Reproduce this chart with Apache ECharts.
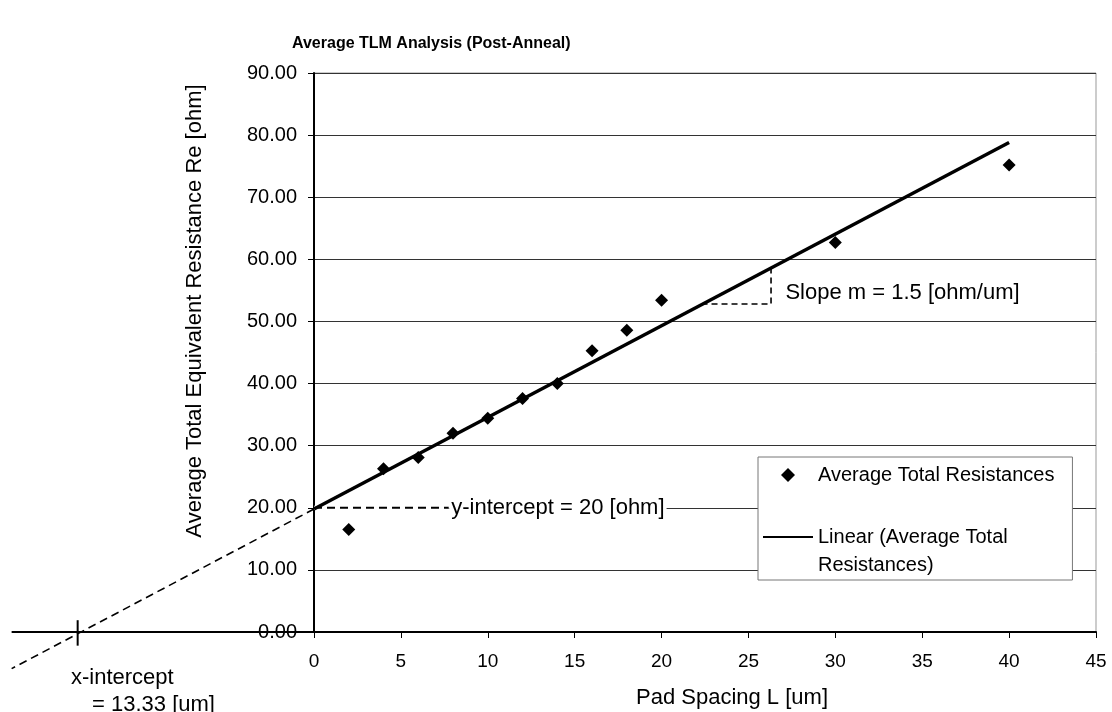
<!DOCTYPE html>
<html>
<head>
<meta charset="utf-8">
<title>Average TLM Analysis (Post-Anneal)</title>
<script src="https://cdn.jsdelivr.net/npm/echarts@6.0.0/dist/echarts.min.js"></script>
<style>
  html, body { margin: 0; padding: 0; background: #fff; }
  #chart { width: 1112px; height: 712px; }
</style>
</head>
<body>
<div id="chart"></div>
<script>
(function () {
  'use strict';

  var FONT = '"Liberation Sans", Arial, sans-serif';

  // measured points (pad spacing in um, average total resistance in ohm)
  var padSpacing = [2, 4, 6, 8, 10, 12, 14, 16, 18, 20, 30, 40];
  var avgResistance = [16.5, 26.3, 28.1, 32.0, 34.4, 37.6, 40.0, 45.3, 48.6, 53.4, 62.7, 75.2];

  // excel linear trendline
  var trendX = [0, 40];
  var trendY = [19.8, 78.8];

  // dashed extrapolation of the trendline back past the y axis
  var extX = [0, -17.4];
  var extY = [19.8, -5.9];

  // x axis carried on to the left, and the cross at the x-intercept
  var axisExtX = [-17.4, 0];
  var axisExtY = [0, 0];
  var crossX = [-13.6, -13.6];
  var crossY = [1.9, -2.2];

  // y-intercept guide
  var yIntX = [0, 7.75];
  var yIntY = [20, 20];

  // slope triangle
  var slopeX = [22.3, 26.3, 26.3];
  var slopeY = [52.8, 52.8, 58.6];

  // note anchors
  var yIntNote = [7.75, 20];
  var slopeNote = [27.1, 54.6];

  // axis ranges: [min, max, interval]
  var xRange = [0, 45, 5];
  var yRange = [0, 90, 10];
  // hidden overlay axes, same scale, reaching left of / below the plot
  var xOverlay = [-18, 45];
  var yOverlay = [-10, 90];

  var SCATTER_NAME = 'Average Total Resistances';
  var TREND_NAME = 'Linear (Average Total Resistances)';

  // plot box, px
  var plot = { left: 314, top: 73, width: 782, height: 559 };
  var pxX = plot.width / (xRange[1] - xRange[0]);
  var pxY = plot.height / (yRange[1] - yRange[0]);

  function pairs(xs, ys) {
    return xs.map(function (x, i) { return [x, ys[i]]; });
  }

  function guide(name, xs, ys, lineStyle, overlay) {
    return {
      type: 'line',
      name: name,
      xAxisIndex: overlay ? 1 : 0,
      yAxisIndex: overlay ? 1 : 0,
      data: pairs(xs, ys),
      symbol: 'none',
      clip: false,
      silent: true,
      lineStyle: lineStyle
    };
  }

  function note(name, point, text, extra) {
    var label = {
      show: true,
      position: 'right',
      distance: 0,
      formatter: text,
      fontFamily: FONT,
      fontSize: 22,
      color: '#000'
    };
    for (var k in extra) { label[k] = extra[k]; }
    return {
      type: 'scatter',
      name: name,
      data: [point],
      symbolSize: 1,
      itemStyle: { color: 'rgba(0,0,0,0)', opacity: 1 },
      silent: true,
      z: 4,
      label: label
    };
  }

  var hiddenAxis = {
    type: 'value', show: false,
    axisLine: { show: false }, axisTick: { show: false },
    axisLabel: { show: false }, splitLine: { show: false }
  };

  function overlayAxis(range, idx) {
    var a = { gridIndex: idx, min: range[0], max: range[1] };
    for (var k in hiddenAxis) { a[k] = hiddenAxis[k]; }
    return a;
  }

  var dashed = { color: '#000', width: 1.6, type: [8, 5] };

  var chart = echarts.init(document.getElementById('chart'));

  chart.setOption({
    animation: false,
    backgroundColor: '#fff',
    title: {
      text: 'Average TLM Analysis (Post-Anneal)',
      left: 292,
      top: 36,
      padding: 0,
      textStyle: { fontFamily: FONT, fontSize: 16, fontWeight: 'bold', color: '#000' }
    },
    grid: [
      {
        left: plot.left, top: plot.top, width: plot.width, height: plot.height,
        show: true, borderColor: '#999', borderWidth: 1
      },
      {
        left: plot.left + xOverlay[0] * pxX,
        top: plot.top,
        width: (xOverlay[1] - xOverlay[0]) * pxX,
        height: (yOverlay[1] - yOverlay[0]) * pxY,
        show: false
      }
    ],
    legend: {
      data: [
        { name: SCATTER_NAME, icon: 'path://M0,7L7,0L14,7L7,14Z' },
        { name: TREND_NAME, icon: 'path://M0,0L50,0L50,2L0,2Z' }
      ],
      formatter: function (name) {
        return name === TREND_NAME ? '\nLinear (Average Total\nResistances)' : name;
      },
      symbolKeepAspect: true,
      orient: 'vertical',
      left: 758,
      top: 457,
      itemWidth: 50,
      itemHeight: 14,
      itemGap: 6,
      padding: [4, 18, 1, 5],
      backgroundColor: '#fff',
      borderColor: '#777',
      borderWidth: 1,
      borderRadius: 0,
      itemStyle: { color: '#000', opacity: 1 },
      textStyle: { fontFamily: FONT, fontSize: 20, color: '#000', lineHeight: 28 }
    },
    xAxis: [
      {
        type: 'value',
        min: xRange[0], max: xRange[1], interval: xRange[2],
        axisLine: { show: true, onZero: false, lineStyle: { color: '#000', width: 2 } },
        axisTick: { show: true, length: 6, lineStyle: { color: '#000' } },
        axisLabel: { fontFamily: FONT, fontSize: 19, color: '#000', margin: 20 },
        splitLine: { show: false }
      },
      overlayAxis(xOverlay, 1)
    ],
    yAxis: [
      {
        type: 'value',
        min: yRange[0], max: yRange[1], interval: yRange[2],
        axisLine: { show: true, lineStyle: { color: '#000', width: 2 } },
        axisTick: { show: true, length: 6, lineStyle: { color: '#000' } },
        axisLabel: {
          fontFamily: FONT, fontSize: 20, color: '#000', margin: 17,
          formatter: function (v) { return v.toFixed(2); }
        },
        splitLine: { show: true, lineStyle: { color: '#333', width: 1 } }
      },
      overlayAxis(yOverlay, 1)
    ],
    graphic: [
      {
        type: 'text', x: 732, y: 698,
        style: { text: 'Pad Spacing L [um]', font: '22px ' + FONT, fill: '#000', align: 'center', verticalAlign: 'middle' }
      },
      {
        type: 'text', x: 195, y: 311, rotation: Math.PI / 2,
        style: { text: 'Average Total Equivalent Resistance Re [ohm]', font: '22px ' + FONT, fill: '#000', align: 'center', verticalAlign: 'middle' }
      },
      {
        type: 'text', x: 71, y: 678,
        style: { text: 'x-intercept', font: '22px ' + FONT, fill: '#000', align: 'left', verticalAlign: 'middle' }
      },
      {
        type: 'text', x: 92, y: 705,
        style: { text: '= 13.33 [um]', font: '22px ' + FONT, fill: '#000', align: 'left', verticalAlign: 'middle' }
      }
    ],
    series: [
      guide('axisExt', axisExtX, axisExtY, { color: '#000', width: 2 }, true),
      guide('cross', crossX, crossY, { color: '#000', width: 2 }, true),
      guide('extrapolation', extX, extY, dashed, true),
      guide('yIntCover', yIntX, yIntY, { color: '#fff', width: 4 }),
      guide('yIntGuide', yIntX, yIntY, { color: '#000', width: 2, type: [8, 5] }),
      guide('slopeGuide', slopeX, slopeY, { color: '#000', width: 1.6, type: [6, 4] }),
      {
        type: 'line',
        name: TREND_NAME,
        data: pairs(trendX, trendY),
        symbol: 'none',
        lineStyle: { color: '#000', width: 3.5 },
        itemStyle: { color: '#000' },
        z: 3
      },
      {
        type: 'scatter',
        name: SCATTER_NAME,
        data: pairs(padSpacing, avgResistance),
        symbol: 'diamond',
        symbolSize: 13,
        itemStyle: { color: '#000', opacity: 1 },
        z: 4
      },
      note('yIntNote', yIntNote, 'y-intercept = 20 [ohm]', { backgroundColor: '#fff', padding: [1, 2, 1, 2] }),
      note('slopeNote', slopeNote, 'Slope m = 1.5 [ohm/um]', {})
    ]
  });
})();
</script>
</body>
</html>
